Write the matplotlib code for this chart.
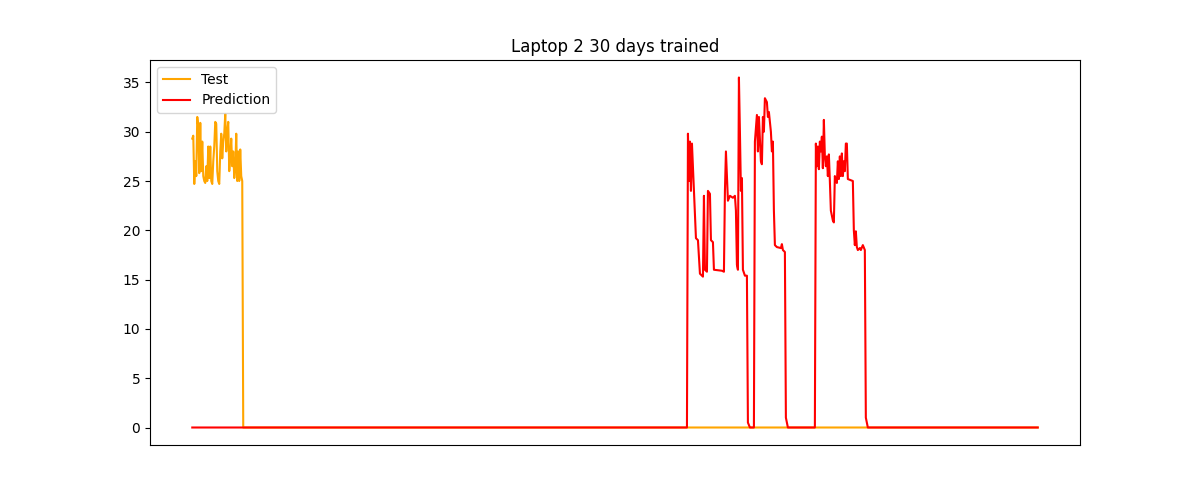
import matplotlib
matplotlib.use("Agg")
import matplotlib.pyplot as plt

START = 192

test_x = [192, 193, 194, 195, 196, 197, 198, 199, 200, 201, 202, 203, 204, 205,
	206, 207, 208, 209, 210, 211, 212, 213, 214, 215, 216, 217, 218, 219, 220,
	221, 222, 223, 224, 225, 226, 227, 228, 229, 230, 231, 232, 233, 234, 235,
	236, 237, 238, 239, 240, 241, 242, 243, 1038]
test_y = [29.3, 29.6, 24.7, 27, 25.5, 31.5, 30.5, 25.8, 30.9, 26, 29, 25.5, 25,
	24.8, 26.5, 25, 28.5, 25.3, 28.5, 25, 24.7, 27, 28.5, 31, 30.8, 26, 25, 24.7,
	28, 29.8, 27.3, 29, 29.8, 31.8, 28, 30, 31, 26, 27.5, 29.3, 26.5, 28, 25.3,
	26.2, 29.8, 25, 28, 25, 28.2, 25.5, 25, 0, 0]

pred_x = [192, 687, 688, 689, 690, 691, 692, 694, 696, 698, 700, 703, 704, 705,
	707, 708, 710, 711, 713, 714, 722, 724, 725, 726, 728, 730, 733, 735, 736,
	737, 738, 739, 740, 741, 742, 743, 745, 747, 748, 750, 754, 755, 757, 758,
	759, 761, 762, 763, 764, 765, 767, 768, 769, 771, 772, 773, 774, 775, 777,
	781, 782, 783, 785, 786, 788, 815, 816, 817, 818, 819, 820, 821, 822, 823,
	824, 825, 826, 827, 828, 829, 830, 831, 833, 834, 835, 836, 837, 838, 839,
	840, 841, 842, 843, 844, 845, 846, 847, 848, 853, 854, 855, 856, 857, 858,
	860, 861, 863, 865, 866, 868, 1038]
pred_y = [0, 0, 29.8, 25, 29, 24, 28.8, 24, 19.2, 19, 15.6, 15.3, 23.5, 16,
	15.8, 24, 23.7, 19, 18.8, 16, 15.9, 15.8, 24, 28, 23, 23.5, 23.3, 23.5, 22,
	16.5, 16, 35.5, 30, 24, 25.3, 16, 15.4, 15.4, 0.5, 0, 0, 29, 31.7, 28, 31.5,
	27, 26.7, 31.5, 30, 33.4, 33, 31.5, 32, 30, 28, 29, 22, 18.5, 18.3, 18.2,
	18.6, 18, 17.8, 1, 0, 0, 28.8, 26.5, 28.5, 26.2, 29, 28, 29.5, 26.3, 31.2,
	27.5, 26.5, 27.5, 25.5, 27.7, 25, 22, 21, 20.8, 25.5, 25, 24.8, 27, 25.2,
	27.5, 25.5, 27.8, 25.5, 27, 26, 28.8, 28.8, 25.2, 25, 20, 18.5, 19.9, 18.3,
	18, 18.2, 18, 18.5, 18, 1, 0, 0]

fig, ax = plt.subplots(figsize = (12, 5))
ax.plot([x - START for x in test_x], test_y, color = "orange", label = "Test")
ax.plot([x - START for x in pred_x], pred_y, color = "red", label = "Prediction")
ax.set_title("Laptop 2 30 days trained")
ax.set_xticks([])
ax.legend(loc = "upper left")
plt.savefig("out.png")
